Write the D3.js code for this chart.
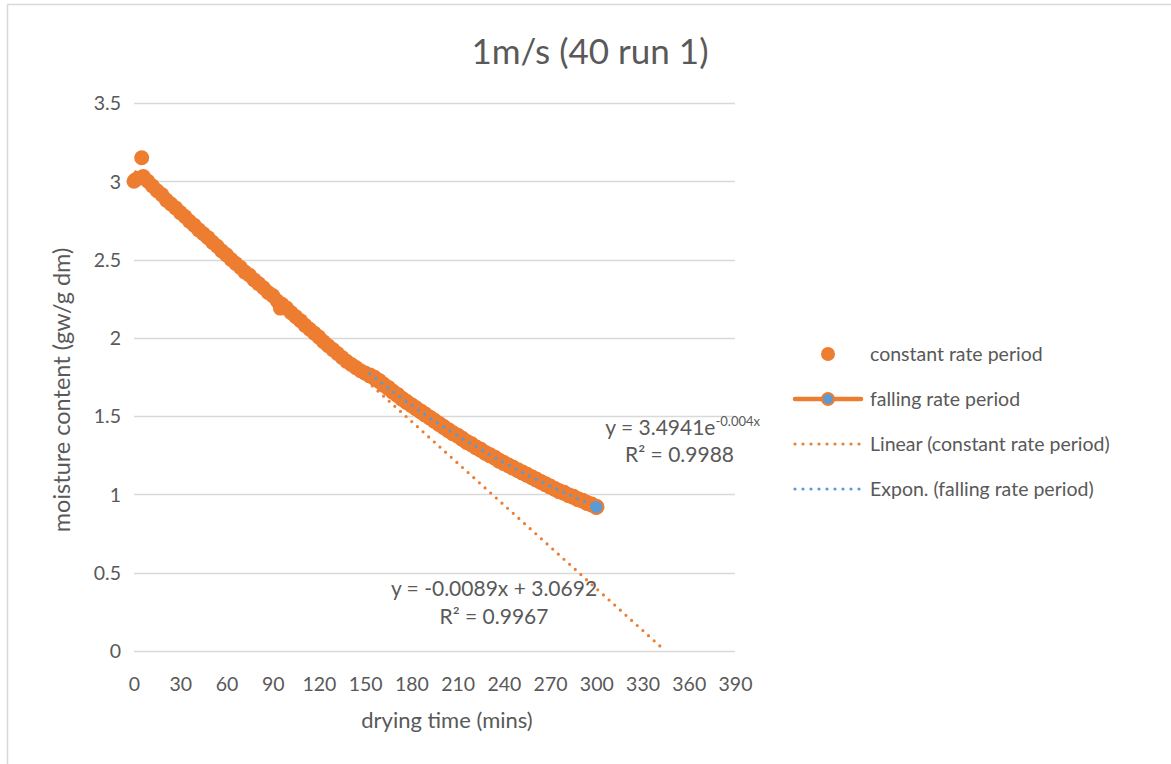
<!DOCTYPE html>
<html>
<head>
<meta charset="utf-8">
<script src="https://cdn.jsdelivr.net/npm/d3@7"></script>
<style>
  html, body { margin: 0; padding: 0; background: #fff; }
  svg { display: block; }
  text { font-family: Lato, "Open Sans", sans-serif; fill: #595959; }
</style>
</head>
<body>
<svg id="chart" width="1171" height="764"></svg>
<script>
// Drying run at 1 m/s (40 °C, run 1): moisture content in gw/g dm against drying time in minutes.
const constantTime = [0, 1, 3, 5, 6, 9, 12, 15, 18, 21, 24, 27, 30, 33, 36, 39, 42, 45, 48, 51, 54, 57, 60,
  63, 66, 69, 72, 75, 78, 81, 84, 87, 90, 93, 95, 96, 99, 102, 105, 108, 111, 114, 117, 120, 123, 126, 129,
  132, 135, 138, 141, 144, 147, 150, 153, 156, 159, 162, 165, 168, 171, 174, 177, 180, 183, 186, 189, 192,
  195, 198, 201, 204, 207, 210, 213, 216, 219, 222, 225, 228, 231, 234, 237, 240, 243, 246, 249, 252, 255,
  258, 261, 264, 267, 270, 273, 276, 279, 282, 285, 288, 291, 294, 297];
const constantMoisture = [3.00, 3.01, 3.02, 3.15, 3.03, 3.00, 2.97, 2.94, 2.915, 2.88, 2.855, 2.83, 2.80,
  2.775, 2.745, 2.72, 2.69, 2.665, 2.64, 2.61, 2.585, 2.555, 2.53, 2.50, 2.475, 2.45, 2.42, 2.40, 2.37,
  2.345, 2.32, 2.29, 2.27, 2.235, 2.19, 2.215, 2.19, 2.16, 2.135, 2.11, 2.08, 2.055, 2.03, 2.005, 1.975,
  1.95, 1.925, 1.90, 1.875, 1.85, 1.83, 1.81, 1.79, 1.775, 1.76, 1.745, 1.725, 1.70, 1.68, 1.655, 1.635,
  1.61, 1.59, 1.57, 1.55, 1.53, 1.51, 1.49, 1.47, 1.45, 1.43, 1.41, 1.39, 1.375, 1.355, 1.335, 1.32, 1.30,
  1.285, 1.265, 1.25, 1.235, 1.215, 1.20, 1.185, 1.17, 1.155, 1.14, 1.125, 1.11, 1.095, 1.08, 1.065, 1.05,
  1.035, 1.02, 1.01, 0.995, 0.985, 0.97, 0.96, 0.945, 0.935];

const fallingTime = [153, 156, 159, 162, 165, 168, 171, 174, 177, 180, 183, 186, 189, 192, 195, 198, 201,
  204, 207, 210, 213, 216, 219, 222, 225, 228, 231, 234, 237, 240, 243, 246, 249, 252, 255, 258, 261, 264,
  267, 270, 273, 276, 279, 282, 285, 288, 291, 294, 297, 300];
const fallingMoisture = [1.76, 1.745, 1.725, 1.70, 1.68, 1.655, 1.635, 1.61, 1.59, 1.57, 1.55, 1.53, 1.51,
  1.49, 1.47, 1.45, 1.43, 1.41, 1.39, 1.375, 1.355, 1.335, 1.32, 1.30, 1.285, 1.265, 1.25, 1.235, 1.215,
  1.20, 1.185, 1.17, 1.155, 1.14, 1.125, 1.11, 1.095, 1.08, 1.065, 1.05, 1.035, 1.02, 1.01, 0.995, 0.985,
  0.97, 0.96, 0.945, 0.935, 0.92];

// Trendline fits: linear for the constant rate period, exponential for the falling rate period
const linearFit = { slope: -0.0089, intercept: 3.0692, r2: 0.9967, from: 1, to: 343 };
const expFit = { a: 3.4941, k: -0.00444, r2: 0.9988, from: 153, to: 300 };

const xTicks = [0, 30, 60, 90, 120, 150, 180, 210, 240, 270, 300, 330, 360, 390];
const yTicks = [0, 0.5, 1, 1.5, 2, 2.5, 3, 3.5];

const chartTitle = "1m/s (40 run 1)";
const xTitle = "drying time (mins)";
const yTitle = "moisture content (gw/g dm)";
const legendLabels = ["constant rate period", "falling rate period",
  "Linear (constant rate period)", "Expon. (falling rate period)"];

const ORANGE = "#ED7D31";
const BLUE = "#5B9BD5";
const GRID = "#d9d9d9";

const svg = d3.select("#chart");

// outer chart frame (top and left edges)
svg.append("path")
  .attr("d", "M7.5,764 V4.5 H1171")
  .attr("fill", "none").attr("stroke", GRID).attr("stroke-width", 1.5);

const x = d3.scaleLinear().domain([0, 390]).range([134, 735]);
const y = d3.scaleLinear().domain([0, 3.5]).range([651, 103]);

// gridlines
svg.append("g").selectAll("line").data(yTicks).join("line")
  .attr("x1", x(0)).attr("x2", x(390))
  .attr("y1", d => Math.round(y(d)) + 0.5).attr("y2", d => Math.round(y(d)) + 0.5)
  .attr("stroke", GRID).attr("stroke-width", 1.3);

// axes (labels only, no domain or tick marks)
const xAxis = svg.append("g").attr("transform", `translate(0,${y(0)})`)
  .call(d3.axisBottom(x).tickValues(xTicks).tickSize(0).tickPadding(0).tickFormat(d3.format("d")));
xAxis.select(".domain").remove();
xAxis.selectAll("text").attr("y", 33).attr("dy", "0.35em")
  .style("font-size", "19.5px").style("font-family", "Lato, sans-serif").attr("fill", "#595959");

const yAxis = svg.append("g").attr("transform", `translate(${x(0)},0)`)
  .call(d3.axisLeft(y).tickValues(yTicks).tickSize(0).tickPadding(0).tickFormat(d3.format("")));
yAxis.select(".domain").remove();
yAxis.selectAll("text").attr("x", -13).attr("dy", "0.35em")
  .style("font-size", "19.5px").style("font-family", "Lato, sans-serif").attr("fill", "#595959");

// falling rate period: thick orange line with blue markers
const line = d3.line().x(d => x(d[0])).y(d => y(d[1]));
const fallingPts = fallingTime.map((t, i) => [t, fallingMoisture[i]]);
svg.append("path").datum(fallingPts)
  .attr("d", line).attr("fill", "none").attr("stroke", ORANGE)
  .attr("stroke-width", 4.5).attr("stroke-linejoin", "round").attr("stroke-linecap", "round");
const fallingMarkers = svg.append("g").selectAll("circle").data(fallingPts).join("circle")
  .attr("cx", d => x(d[0])).attr("cy", d => y(d[1])).attr("r", 7)
  .attr("fill", BLUE).attr("stroke", ORANGE).attr("stroke-width", 2);

// constant rate period scatter
const constantPts = constantTime.map((t, i) => [t, constantMoisture[i]]);
svg.append("g").selectAll("circle").data(constantPts).join("circle")
  .attr("cx", d => x(d[0])).attr("cy", d => y(d[1])).attr("r", 7.5)
  .attr("fill", ORANGE);

// the closing falling-rate reading sits above the scatter
const lastFalling = fallingPts[fallingPts.length - 1];
svg.append("circle")
  .attr("cx", x(lastFalling[0])).attr("cy", y(lastFalling[1])).attr("r", 7)
  .attr("fill", BLUE).attr("stroke", ORANGE).attr("stroke-width", 2);

// trendlines
const linPts = [linearFit.from, linearFit.to].map(t => [t, linearFit.slope * t + linearFit.intercept]);
svg.append("path").datum(linPts).attr("d", line)
  .attr("fill", "none").attr("stroke", ORANGE).attr("stroke-width", 3.2)
  .attr("stroke-dasharray", "0 7.6").attr("stroke-linecap", "round");

const expPts = d3.range(expFit.from, expFit.to + 0.001, 1).map(t => [t, expFit.a * Math.exp(expFit.k * t)]);
svg.append("path").datum(expPts).attr("d", line)
  .attr("fill", "none").attr("stroke", BLUE).attr("stroke-width", 3.2)
  .attr("stroke-dasharray", "0 7.6").attr("stroke-linecap", "round");

// trendline equations
const expLabel = svg.append("text").attr("x", 760).attr("y", 435)
  .attr("text-anchor", "end").style("font-size", "21px");
expLabel.append("tspan").text(`y = ${expFit.a.toFixed(4)}e`);
expLabel.append("tspan").attr("dy", -9).style("font-size", "13px").text(`${expFit.k.toFixed(3)}x`);
svg.append("text").attr("x", 734).attr("y", 462).attr("text-anchor", "end")
  .style("font-size", "21px").text(`R² = ${expFit.r2.toFixed(4)}`);

svg.append("text").attr("x", 494).attr("y", 596).attr("text-anchor", "middle")
  .style("font-size", "21px")
  .text(`y = ${linearFit.slope.toFixed(4)}x + ${linearFit.intercept.toFixed(4)}`);
svg.append("text").attr("x", 494).attr("y", 624).attr("text-anchor", "middle")
  .style("font-size", "21px").text(`R² = ${linearFit.r2.toFixed(4)}`);

// titles
svg.append("text").attr("x", 590).attr("y", 52).attr("dy", "0.35em").attr("text-anchor", "middle")
  .style("font-size", "35px").text(chartTitle);
svg.append("text").attr("x", 447).attr("y", 720).attr("dy", "0.35em").attr("text-anchor", "middle")
  .style("font-size", "22px").text(xTitle);
svg.append("text").attr("transform", "translate(62,390) rotate(-90)").attr("dy", "0.35em")
  .attr("text-anchor", "middle").style("font-size", "23.5px").text(yTitle);

// legend
const legendY = [354, 399, 444, 489];
const legend = svg.append("g");
legend.append("circle").attr("cx", 828).attr("cy", legendY[0]).attr("r", 7).attr("fill", ORANGE);
legend.append("line").attr("x1", 795).attr("x2", 861).attr("y1", legendY[1]).attr("y2", legendY[1])
  .attr("stroke", ORANGE).attr("stroke-width", 4.5).attr("stroke-linecap", "round");
legend.append("circle").attr("cx", 828).attr("cy", legendY[1]).attr("r", 6)
  .attr("fill", BLUE).attr("stroke", ORANGE).attr("stroke-width", 2);
legend.append("line").attr("x1", 795).attr("x2", 861).attr("y1", legendY[2]).attr("y2", legendY[2])
  .attr("stroke", ORANGE).attr("stroke-width", 3.2).attr("stroke-dasharray", "0 8").attr("stroke-linecap", "round");
legend.append("line").attr("x1", 795).attr("x2", 861).attr("y1", legendY[3]).attr("y2", legendY[3])
  .attr("stroke", BLUE).attr("stroke-width", 3.2).attr("stroke-dasharray", "0 8").attr("stroke-linecap", "round");
legend.selectAll("text").data(legendLabels).join("text")
  .attr("x", 870).attr("y", (d, i) => legendY[i]).attr("dy", "0.35em")
  .style("font-size", "19.5px").text(d => d);
</script>
</body>
</html>
